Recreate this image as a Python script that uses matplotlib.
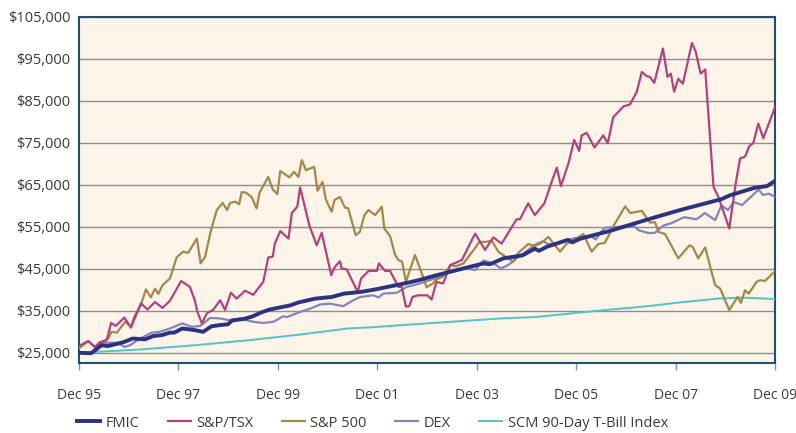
import matplotlib
matplotlib.use("Agg")
import matplotlib.pyplot as plt
from matplotlib.ticker import FuncFormatter

# months after Dec 95
fmic_m = [0, 3, 5.5, 7, 9.5, 11, 13, 16, 18, 20, 22, 23, 25, 28, 30, 32, 34, 36, 37, 40, 42, 44, 46, 51, 53,
          57, 61, 64, 68, 71, 74, 78, 82, 86, 90, 94, 97.6, 99.2, 102.4, 107, 110, 111, 113, 118, 119, 121,
          128, 137, 145, 155, 157, 163, 166, 168]
fmic_v = [25000, 24900, 26800, 26600, 27200, 27600, 28400, 28200, 29000, 29200, 29800, 29800, 30800, 30400,
          30000, 31300, 31600, 31800, 32700, 33100, 33700, 34600, 35300, 36300, 37000, 37900, 38300, 39100,
          39500, 40000, 40600, 41400, 42300, 43400, 44400, 45400, 46300, 46100, 47500, 48200, 49800, 49300,
          50300, 51900, 51300, 52200, 54000, 56700, 59000, 61600, 62500, 64300, 64700, 66000]

tsx_m = [0, 2.3, 3.9, 5.1, 6.75, 7.8, 8.9, 11, 12.6, 15, 16.6, 18.4, 20.2, 22, 24.7, 26.8, 28, 28.6, 29.7,
         30.9, 32.5, 34.1, 35.3, 36.7, 38.1, 40.1, 42.1, 44.5, 45.7, 46.8, 47.3, 48.6, 50.6, 51.4, 52.7, 53.4,
         55.6, 57.4, 58.6, 60.9, 61.8, 63, 63.4, 64.6, 67.3, 68.1, 69.9, 71.9, 72.4, 73.9, 75.1, 77.1, 77.9,
         78.9, 79.7, 80.5, 81.9, 84.1, 85.1, 86.3, 87.9, 89.6, 92.4, 95.6, 98, 100, 102, 105.6, 106.4, 108.4,
         110, 112.3, 113.9, 115.3, 116.3, 118.1, 119.5, 120.7, 121.3, 122.5, 124.4, 126.5, 127.6, 128.9,
         131.4, 133, 134.6, 135.8, 137, 137.8, 138.8, 140.9, 142, 142.8, 143.6, 144.6, 145.7, 147.9, 148.8,
         150, 151.1, 153.1, 154.3, 156.9, 158.5, 159.5, 160.7, 161.7, 162.7, 163.9, 165.1, 168]
tsx_v = [26600, 27800, 26400, 27500, 28000, 32100, 31400, 33400, 31000, 36800, 35300, 37100, 35700, 37400,
         42100, 40700, 37500, 34800, 32000, 34400, 35300, 37500, 35200, 39300, 37900, 39800, 38800, 41900,
         47700, 47900, 51000, 54000, 52200, 58300, 59800, 64400, 55400, 50600, 53600, 43500, 45500, 46800,
         45100, 44900, 39500, 42700, 44500, 44500, 46300, 44500, 44500, 40700, 40700, 36000, 36100, 38300,
         38700, 38700, 37700, 41900, 41500, 45900, 47100, 53400, 49500, 52500, 51000, 56800, 56800, 60600,
         57800, 60600, 65300, 69100, 64700, 70100, 75700, 73100, 76800, 77400, 73900, 76800, 74900, 81100,
         83700, 84200, 87200, 91900, 90900, 90700, 89300, 97500, 90700, 91500, 87200, 90300, 89100, 98800,
         96700, 91500, 92500, 64500, 62100, 54600, 65700, 71300, 71700, 74200, 75000, 79600, 76100, 83700]

sp_m = [0, 2.3, 3.9, 5.6, 7.1, 7.9, 9.2, 11.2, 12.6, 13.4, 15, 16.2, 17.4, 18.4, 19.2, 20.2, 22, 23.6, 25.2,
        26.4, 28.5, 29.4, 30.5, 31.7, 33.3, 34.7, 35.8, 36.5, 37.7, 38.7, 39.3, 40.4, 41.7, 42.9, 43.6, 45.7,
        46.8, 47.9, 48.6, 50.8, 51.9, 53, 53.8, 54.8, 56.8, 57.6, 58.8, 59.6, 61, 61.7, 63, 64.2, 65, 66.8,
        67.8, 68.9, 69.9, 71.5, 73.1, 73.7, 75.1, 76.3, 77.1, 78, 78.9, 81.1, 82.6, 83.9, 85.4, 86.3, 87.8,
        89.7, 91, 92.8, 95.2, 96.6, 98, 99.6, 101.2, 103.2, 104.8, 106, 108.4, 110, 111.3, 113.3, 114.5,
        116.1, 117.7, 119.7, 121.7, 123.7, 125.3, 126.9, 129.1, 131.8, 133, 135.8, 137.8, 139, 139.8, 141.4,
        144.6, 147.3, 148.1, 149.4, 151.1, 152.3, 153.5, 154.7, 156.9, 158.9, 159.7, 160.7, 161.6, 163.5,
        164.3, 165.5, 168]
sp_v = [26050, 27800, 26300, 27600, 28400, 30000, 29800, 32400, 31200, 33600, 36400, 40100, 38200, 40300,
        39000, 41100, 42700, 47700, 49100, 48800, 52200, 46300, 47900, 53400, 59000, 60700, 59000, 60700,
        61000, 60400, 63300, 63100, 62100, 59400, 63100, 66900, 63900, 62800, 68300, 66800, 68100, 66900,
        70900, 68500, 69300, 63600, 65700, 61500, 58600, 61400, 62100, 59600, 59400, 53000, 53800, 57800,
        59000, 57800, 59800, 54600, 52800, 48300, 47100, 46700, 41900, 48300, 44300, 40600, 41500, 42500,
        43100, 45900, 45600, 46300, 49450, 51400, 51400, 51700, 49100, 47700, 46700, 48800, 50900, 50500,
        51000, 52600, 51000, 49100, 51000, 52000, 53300, 49100, 50900, 51200, 55400, 59900, 58300, 58800,
        56000, 56100, 53800, 53300, 47500, 50600, 50200, 47500, 50100, 45500, 41100, 40300, 35200, 38300,
        36900, 39900, 39100, 41900, 42300, 42100, 44500]

dex_m = [0, 3, 5, 8, 9.5, 11, 12.4, 14.8, 17.6, 19.6, 22, 25, 27.3, 29.3, 31.7, 34, 36, 39, 42, 44.5, 47,
         49.3, 50.2, 53, 55.8, 58.2, 60.6, 63.8, 66.2, 67.9, 71, 72.3, 73.5, 76.7, 79.1, 81.5, 84.7, 87.9,
         90.4, 93.6, 95.6, 97.6, 100, 101.8, 103.6, 106, 108.4, 110.5, 112, 113.4, 116, 119.5, 123.5, 124.7,
         126, 127, 134, 135, 137.5, 139, 141, 143, 146, 149, 151, 153.5, 155, 156.6, 158, 160, 164, 165,
         166.5, 168]
dex_v = [25200, 24700, 27400, 27400, 27400, 26400, 26800, 28400, 29800, 30000, 30800, 32000, 31200, 31400,
         33300, 33200, 32800, 33100, 32400, 32100, 32400, 33700, 33500, 34600, 35500, 36500, 36700, 36100,
         37500, 38300, 38700, 38200, 39100, 39300, 40700, 41300, 42300, 43500, 44700, 45100, 44700, 47000,
         46300, 45100, 45900, 47800, 49500, 51000, 51600, 50800, 51200, 52300, 52800, 52000, 53800, 54800,
         55200, 54200, 53500, 53600, 55300, 55900, 57300, 56800, 58300, 56600, 60100, 59000, 60900, 60200,
         63900, 62600, 62900, 62100]

tbill_m = [0, 4, 15, 28, 41, 53, 65, 71, 78, 90, 102, 110, 118, 126, 134, 138, 146, 154, 160, 168]
tbill_v = [25000, 25200, 25800, 26800, 28000, 29300, 30800, 31100, 31600, 32400, 33200, 33500, 34300, 35100,
           35800, 36200, 37100, 37900, 38150, 37800]

tick_months = [0, 24, 48, 72, 96, 120, 144, 168]
tick_labels = ['Dec 95', 'Dec 97', 'Dec 99', 'Dec 01', 'Dec 03', 'Dec 05', 'Dec 07', 'Dec 09']
y_ticks = list(range(25000, 105001, 10000))

plt.rcParams['font.family'] = ['Open Sans', 'DejaVu Sans']
text_col = '#3a3a3a'

fig = plt.figure(figsize=(7.96, 4.33), dpi=100)
ax = fig.add_axes([0.0989, 0.1610, 0.8751, 0.7998])
ax.set_facecolor('#fcf3e9')

ax.plot(tbill_m, tbill_v, color='#4fc4ca', lw=1.4, label='SCM 90-Day T-Bill Index', zorder=3)
ax.plot(dex_m, dex_v, color='#8584ba', lw=1.6, label='DEX', zorder=4)
ax.plot(sp_m, sp_v, color='#a4874a', lw=1.6, label='S&P 500', zorder=4)
ax.plot(tsx_m, tsx_v, color='#b0437b', lw=1.6, label='S&P/TSX', zorder=5)
ax.plot(fmic_m, fmic_v, color='#2a3282', lw=2.8, label='FMIC', zorder=6)

ax.set_xlim(0, 168)
ax.set_ylim(22500, 105000)
ax.set_yticks(y_ticks)
ax.yaxis.set_major_formatter(FuncFormatter(lambda v, p: '${:,.0f}'.format(v)))
ax.set_xticks(tick_months)
ax.set_xticklabels(tick_labels)
ax.grid(axis='y', color='#8e8e8e', lw=1.0, zorder=1)
ax.set_axisbelow(True)
ax.tick_params(axis='y', length=0, pad=6, labelsize=10.5, labelcolor=text_col)
ax.tick_params(axis='x', length=5, width=1, color='#8e8e8e', pad=13, labelsize=10, labelcolor=text_col)
for s in ax.spines.values():
    s.set_color('#1f5070')
    s.set_linewidth(1.5)

h, l = ax.get_legend_handles_labels()
order = ['FMIC', 'S&P/TSX', 'S&P 500', 'DEX', 'SCM 90-Day T-Bill Index']
hs = [h[l.index(o)] for o in order]
leg = fig.legend(hs, order, loc='center left', bbox_to_anchor=(77 / 796, 0.023), ncol=5, frameon=False,
                 borderaxespad=0, borderpad=0, handlelength=1.6, handletextpad=0.35, columnspacing=1.95,
                 fontsize=10.5)
for t in leg.get_texts():
    t.set_color(text_col)

fig.savefig('out.png', dpi=100, facecolor='white')
